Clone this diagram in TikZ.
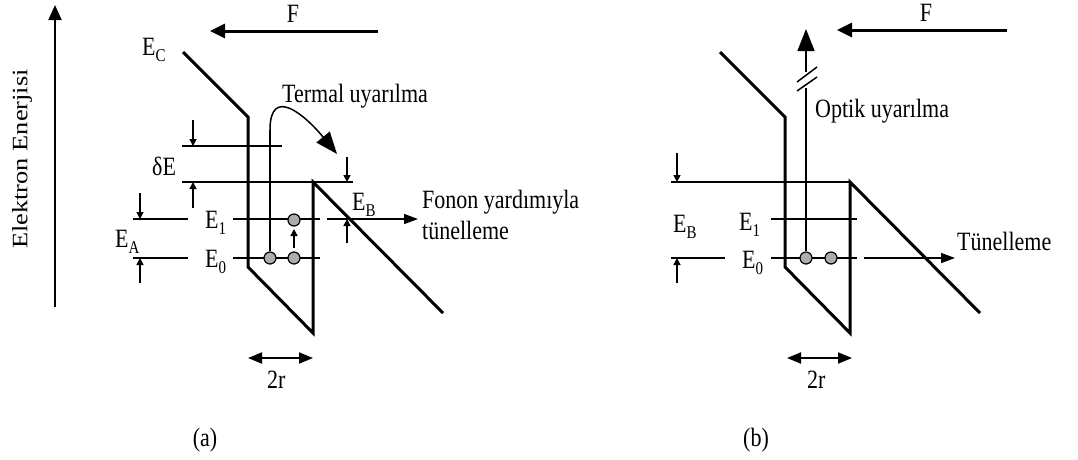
\documentclass[tikz,border=0pt]{standalone}
\usepackage{fontspec}
\setmainfont{Liberation Serif}
\usetikzlibrary{arrows.meta}
\newcommand\lowsub[1]{\raisebox{-5pt}{\fontsize{15}{15}\selectfont #1}}
\begin{document}
\begin{tikzpicture}[x=1pt,y=-1pt,
  lbl/.style={inner sep=0pt,font=\fontsize{22}{26}\selectfont,yscale=1.2,transform shape},
  band/.style={line width=3pt,line join=miter},
  lev/.style={line width=1.5pt},
  bigarrow/.style={line width=3pt,-{Triangle[length=15pt,width=14pt]}},
  dimarrow/.style={line width=1.5pt,-{Triangle[length=7pt,width=7pt]}},
  tunarrow/.style={line width=1.5pt,-{Triangle[length=14pt,width=10pt]}},
  excarrow/.style={line width=1.5pt,-{Triangle[length=22pt,width=17pt]}},
  twoarrow/.style={line width=2pt,{Triangle[length=14pt,width=11pt]}-{Triangle[length=14pt,width=11pt]}},
  dot/.style={circle,draw,fill=gray!65,line width=1.2pt,minimum size=12pt,inner sep=0pt}
]
\useasboundingbox (0,0) rectangle (1078,459);

% energy axis
\coordinate (ax0) at (55,307);
\coordinate (ax1) at (55,5);
\draw[line width=2pt,-{Triangle[length=15pt,width=13pt]}] (ax0) -- (ax1);
\node[inner sep=0pt,font=\fontsize{22}{26}\selectfont,rotate=90,xscale=1.2,transform shape] (axl) at (22,159) {Elektron Enerjisi};

% ================= panel (a) =================
\coordinate (a1) at (183,52);
\coordinate (a2) at (248,117);
\coordinate (a3) at (248,267);
\coordinate (a4) at (313,333);
\coordinate (a5) at (313,182);
\coordinate (a6) at (443,313);
\draw[band] (a1) -- (a2) -- (a3) -- (a4) -- (a5) -- (a6);

\coordinate (fa0) at (378,31);
\coordinate (fa1) at (210,31);
\draw[bigarrow] (fa0) -- (fa1);
\node[lbl] (Fa) at (293,14) {F};
\node[lbl,anchor=base west] (Eca) at (142,55) {E\lowsub{C}};

% levels
\coordinate (dEt0) at (182,146); \coordinate (dEt1) at (282,146);
\coordinate (dEb0) at (182,182); \coordinate (dEb1) at (353,182);
\draw[lev] (dEt0) -- (dEt1);
\draw[lev] (dEb0) -- (dEb1);
\coordinate (e1a0) at (133,219); \coordinate (e1a1) at (188,219);
\coordinate (e1a2) at (233,219); \coordinate (e1a3) at (320,219);
\coordinate (e0a0) at (133,258); \coordinate (e0a1) at (188,258);
\coordinate (e0a2) at (233,258); \coordinate (e0a3) at (320,258);
\draw[lev] (e1a0) -- (e1a1) (e1a2) -- (e1a3);
\draw[lev] (e0a0) -- (e0a1) (e0a2) -- (e0a3);
\node[lbl,anchor=base west] (E1a) at (205,228) {E\lowsub{1}};
\node[lbl,anchor=base west] (E0a) at (205,267) {E\lowsub{0}};

% dimension arrows
\coordinate (d1s) at (193,120); \coordinate (d1e) at (193,146);
\coordinate (d2s) at (193,208); \coordinate (d2e) at (193,182);
\coordinate (d3s) at (347,157); \coordinate (d3e) at (347,182);
\coordinate (d4s) at (347,243); \coordinate (d4e) at (347,219);
\coordinate (d5s) at (140,193); \coordinate (d5e) at (140,219);
\coordinate (d6s) at (140,283); \coordinate (d6e) at (140,258);
\draw[dimarrow] (d1s) -- (d1e);
\draw[dimarrow] (d2s) -- (d2e);
\draw[dimarrow] (d3s) -- (d3e);
\draw[dimarrow] (d4s) -- (d4e);
\draw[dimarrow] (d5s) -- (d5e);
\draw[dimarrow] (d6s) -- (d6e);
\node[lbl,anchor=base west] (dE) at (152,175) {δE};
\node[lbl,anchor=base west] (EA) at (115,247) {E\lowsub{A}};
\node[lbl,anchor=base west] (EBa) at (352,210) {E\lowsub{B}};

% electrons
\node[dot] (ca1) at (270,258) {};
\node[dot] (ca2) at (294,258) {};
\node[dot] (ca3) at (294,220) {};
\coordinate (up0) at (294,248); \coordinate (up1) at (294,229);
\draw[dimarrow] (up0) -- (up1);

% thermal excitation
\coordinate (th0) at (270,130);
\coordinate (th1) at (337,154);
\draw[lev] (ca1.north) -- (th0);
\draw[excarrow] (th0) .. controls (270,85) and (305,115) .. (th1);
\node[lbl,anchor=base west] (term) at (282,102) {Termal uyarılma};

% phonon-assisted tunnelling
\coordinate (tn0) at (327,219); \coordinate (tn1) at (418,219);
\draw[tunarrow] (tn0) -- (tn1);
\node[lbl,anchor=base west] (fon) at (422,208) {Fonon yardımıyla};
\node[lbl,anchor=base west] (tun) at (422,239) {tünelleme};

% 2r
\coordinate (ra0) at (248,358); \coordinate (ra1) at (313,358);
\draw[twoarrow] (ra0) -- (ra1);
\node[lbl,anchor=base west] (2ra) at (267,388) {2r};
\node[lbl] (capa) at (205,440) {(a)};

% ================= panel (b) =================
\coordinate (b1) at (720,52);
\coordinate (b2) at (785,117);
\coordinate (b3) at (785,267);
\coordinate (b4) at (850,333);
\coordinate (b5) at (850,182);
\coordinate (b6) at (980,313);
\draw[band] (b1) -- (b2) -- (b3) -- (b4) -- (b5) -- (b6);

\coordinate (fb0) at (1007,30);
\coordinate (fb1) at (837,30);
\draw[bigarrow] (fb0) -- (fb1);
\node[lbl] (Fb) at (926,13) {F};

\coordinate (tb0) at (671,182);
\draw[lev] (tb0) -- (b5);
\coordinate (e1b0) at (771,219); \coordinate (e1b1) at (857,219);
\coordinate (e0b0) at (671,258); \coordinate (e0b1) at (725,258);
\coordinate (e0b2) at (771,258); \coordinate (e0b3) at (857,258);
\draw[lev] (e1b0) -- (e1b1);
\draw[lev] (e0b0) -- (e0b1) (e0b2) -- (e0b3);
\node[lbl,anchor=base west] (E1b) at (739,230) {E\lowsub{1}};
\node[lbl,anchor=base west] (E0b) at (742,268) {E\lowsub{0}};
\node[lbl,anchor=base west] (EBb) at (673,232) {E\lowsub{B}};

\coordinate (d7s) at (677,153); \coordinate (d7e) at (677,182);
\coordinate (d8s) at (677,283); \coordinate (d8e) at (677,258);
\draw[dimarrow] (d7s) -- (d7e);
\draw[dimarrow] (d8s) -- (d8e);

\node[dot] (cb1) at (806,258) {};
\node[dot] (cb2) at (831,258) {};

% optical excitation
\coordinate (op0) at (806,88);
\coordinate (op1) at (806,72);
\coordinate (op2) at (806,29);
\draw[lev] (cb1.north) -- (op0);
\draw[excarrow] (op1) -- (op2);
\coordinate (s1a) at (797,82); \coordinate (s1b) at (817,67);
\coordinate (s2a) at (797,91); \coordinate (s2b) at (817,77);
\draw[lev] (s1a) -- (s1b) (s2a) -- (s2b);
\node[lbl,anchor=base west] (opt) at (815,117) {Optik uyarılma};

% tunnelling
\coordinate (tb1) at (864,258); \coordinate (tb2) at (955,258);
\draw[tunarrow] (tb1) -- (tb2);
\node[lbl,anchor=base west] (tunb) at (957,250) {Tünelleme};

\coordinate (rb0) at (787,358); \coordinate (rb1) at (852,358);
\draw[twoarrow] (rb0) -- (rb1);
\node[lbl,anchor=base west] (2rb) at (807,388) {2r};
\node[lbl] (capb) at (756,440) {(b)};
\end{tikzpicture}
\end{document}
